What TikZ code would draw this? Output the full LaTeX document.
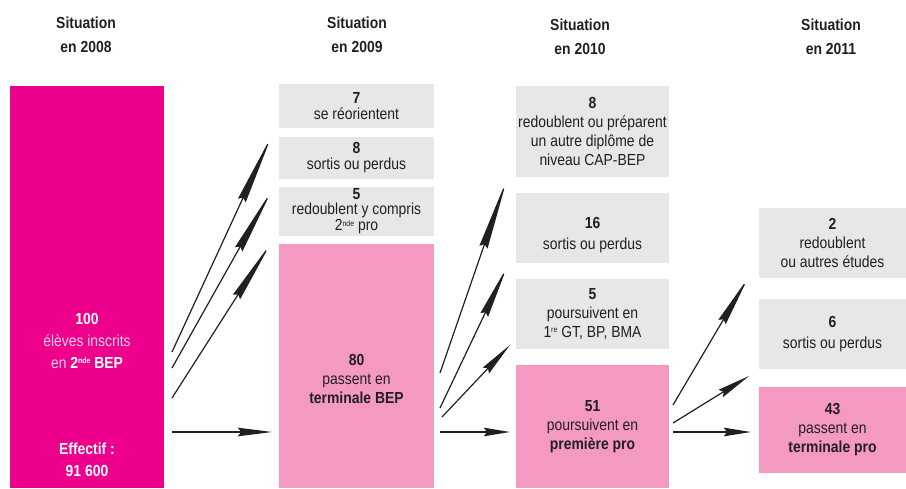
\documentclass[tikz,border=0pt]{standalone}
\usepackage{fontspec}
\setmainfont{Liberation Sans}[FakeStretch=0.87]
\usetikzlibrary{arrows.meta}
\definecolor{rosevif}{HTML}{EC008C}
\definecolor{rosepale}{HTML}{F49AC2}
\definecolor{grisclair}{HTML}{E6E7E8}
\definecolor{encre}{HTML}{231F20}
\definecolor{roseclair}{HTML}{FAD0E4}
\tikzset{>={Stealth[length=30pt,width=8pt,inset=3pt]}}
\tikzset{pointe/.style={-{Stealth[length=#1,width=8.5pt,inset=3pt]}}}
\newcommand{\corps}{\fontsize{16}{19}\selectfont}
\newcommand{\expo}[1]{\raisebox{0.55ex}{\fontsize{8}{8}\selectfont #1}}

\begin{document}
\begin{tikzpicture}[x=1pt,y=-1pt,
  titre/.style={font=\corps\bfseries,text=encre,align=center},
  case/.style={fill=grisclair,minimum width=153pt,inner sep=0pt,text=encre,font=\corps,align=center},
  caserose/.style={case,fill=rosepale},
  fleche/.style={line width=1.2pt,draw=encre},
  plat/.style={line width=1.7pt,draw=encre}]
  \useasboundingbox (0,0) rectangle (906,488);

  % titres
  \node[titre] (t08) at (86,35) {Situation\\[5pt]en 2008};
  \node[titre] (t09) at (357,35) {Situation\\[5pt]en 2009};
  \node[titre] (t10) at (580,37) {Situation\\[5pt]en 2010};
  \node[titre] (t11) at (831,37) {Situation\\[5pt]en 2011};

  % 2008
  \node[fill=rosevif,minimum width=154pt,minimum height=402pt,inner sep=0pt] (b100) at (87,287) {};
  \node[font=\corps,text=roseclair,align=center] (t100) at (87,341)
    {\textcolor{white}{\textbf{100}}\\[3pt]élèves inscrits\\[3pt]en \textcolor{white}{\textbf{2\expo{nde} BEP}}};
  \node[font=\corps\bfseries,text=white,align=center] (eff) at (87,460) {Effectif :\\[3pt]91 600};

  % 2009
  \node[case,minimum width=155pt,minimum height=44pt] (b7) at (356.5,106) {\textbf{7}\\[-3pt]se réorientent};
  \node[case,minimum width=155pt,minimum height=42pt] (b8) at (356.5,158) {\textbf{8}\\[-3pt]sortis ou perdus};
  \node[case,minimum width=155pt,minimum height=49pt] (b5) at (356.5,211.5)
    {\textbf{5}\\[-4pt]redoublent y compris\\[-3pt]2\expo{nde} pro};
  \node[caserose,minimum width=155pt,minimum height=244pt] (b80) at (356.5,366) {};
  \node[font=\corps,text=encre,align=center] (t80) at (356.5,379)
    {\textbf{80}\\passent en\\\textbf{terminale BEP}};

  % 2010
  \node[case,minimum height=91pt] (c8) at (592.5,131.5)
    {\textbf{8}\\redoublent ou préparent\\un autre diplôme de\\niveau CAP-BEP};
  \node[case,minimum height=70pt] (c16) at (592.5,228) {};
  \node[font=\corps,text=encre,align=center] (t16) at (592.5,235) {\textbf{16}\\[2pt]sortis ou perdus};
  \node[case,minimum height=70pt] (c5) at (592.5,314)
    {\textbf{5}\\poursuivent en\\1\expo{re} GT, BP, BMA};
  \node[caserose,minimum height=123pt] (c51) at (592.5,426.5)
    {\textbf{51}\\poursuivent en\\\textbf{première pro}};

  % 2011
  \node[case,minimum width=147pt,minimum height=70pt] (d2) at (832.5,243)
    {\textbf{2}\\redoublent\\ou autres études};
  \node[case,minimum width=147pt,minimum height=70pt] (d6) at (832.5,334) {\textbf{6}\\[2pt]sortis ou perdus};
  \node[caserose,minimum width=147pt,minimum height=86pt] (d43) at (832.5,430)
    {\textbf{43}\\passent en\\\textbf{terminale pro}};

  % departs et pointes
  \coordinate (a1) at (172,352); \coordinate (a2) at (172,368);
  \coordinate (a3) at (172,398); \coordinate (a4) at (172,432);
  \coordinate (p1) at (272,135); \coordinate (p2) at (272,190);
  \coordinate (p3) at (271,243); \coordinate (p4) at (272,432);
  \coordinate (e1) at (440,373); \coordinate (e2) at (440,408);
  \coordinate (e3) at (442,417); \coordinate (e4) at (440,432);
  \coordinate (q1) at (507,179); \coordinate (q2) at (507,267);
  \coordinate (q3) at (510,345); \coordinate (q4) at (510,432);
  \coordinate (g1) at (673,405); \coordinate (g2) at (673,423);
  \coordinate (g3) at (673,432);
  \coordinate (r1) at (748,278); \coordinate (r2) at (749,376);
  \coordinate (r3) at (751,432);

  \draw[fleche,pointe=72pt] (a1) -- (p1);
  \draw[fleche,pointe=68pt] (a2) -- (p2);
  \draw[fleche,pointe=64pt] (a3) -- (p3);
  \draw[plat,pointe=34pt] (a4) -- (p4);

  \draw[fleche,pointe=72pt] (e1) -- (q1);
  \draw[fleche,pointe=53pt] (e2) -- (q2);
  \draw[fleche,pointe=35pt] (e3) -- (q3);
  \draw[plat,pointe=26pt] (e4) -- (q4);

  \draw[fleche,pointe=51pt] (g1) -- (r1);
  \draw[fleche,pointe=33pt] (g2) -- (r2);
  \draw[plat,pointe=27pt] (g3) -- (r3);
\end{tikzpicture}
\end{document}
